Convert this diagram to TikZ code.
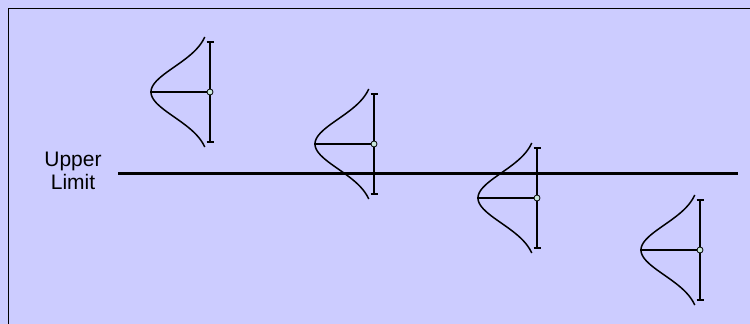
\documentclass[tikz,border=0pt]{standalone}
\usepackage{fontspec}
\setmainfont{Liberation Sans}
\definecolor{bgblue}{HTML}{CCCCFF}
\definecolor{dotfill}{HTML}{C8E6DC}

\begin{document}
\begin{tikzpicture}[x=1pt,y=-1pt,
    bellcurve/.style={line width=1.5pt},
    meanline/.style={line width=2pt},
    limitline/.style={line width=3pt},
    meandot/.style={circle,draw,fill=dotfill,inner sep=0pt,minimum size=6pt,line width=0.8pt}]
  % background and frame
  \fill[bgblue] (0,0) rectangle (750,324);
  \useasboundingbox (0,0) rectangle (750,324);
  \draw[line width=1pt] (8.5,340) -- (8.5,8.5) -- (760,8.5);
  % upper limit
  \node[align=center, font=\fontsize{21}{23}\selectfont] (lbl) at (73,171) {Upper\\Limit};
  \coordinate (lim-a) at (118,173.5);
  \coordinate (lim-b) at (738,173.5);
  \draw[limitline] (lim-a) -- (lim-b);
  % distributions
  \foreach \i/\cx/\cy in {1/210/92, 2/374/144, 3/537/198, 4/700/250}{
    \coordinate (c\i) at (\cx,\cy);
    \coordinate (top\i) at (\cx,\cy-50);
    \coordinate (bot\i) at (\cx,\cy+50);
    \coordinate (tip\i) at (\cx-60,\cy);
    \draw[bellcurve] plot[domain=-55:55,samples=61,smooth] ({\cx-59*exp(-(\x*\x)/1250)},{\cy+\x});
    \draw[meanline] (top\i) -- (bot\i);
    \draw[meanline] ([xshift=-3.5pt]top\i) -- ([xshift=3.5pt]top\i);
    \draw[meanline] ([xshift=-3.5pt]bot\i) -- ([xshift=3.5pt]bot\i);
    \draw[meanline] (tip\i) -- (c\i);
    \node[meandot] (mean\i) at (c\i) {};
  }
\end{tikzpicture}
\end{document}
